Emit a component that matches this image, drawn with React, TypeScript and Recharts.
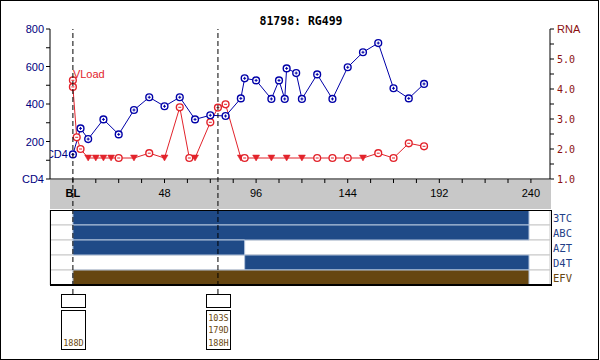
import React from 'react';
import { ComposedChart, BarChart, Bar, Line, XAxis, YAxis, ReferenceLine, Cell } from 'recharts';

// CD4 counts by week
const cd4Weeks = [0, 4, 8, 16, 24, 32, 40, 48, 56, 64, 72, 80, 88, 90, 96, 104, 108, 111, 112, 117, 120, 128, 136, 144, 152, 160, 168, 176, 184];
const cd4Values = [131, 270, 213, 318, 238, 368, 436, 388, 436, 318, 340, 336, 430, 537, 526, 427, 526, 427, 590, 565, 427, 558, 427, 596, 676, 725, 484, 430, 507];

// viral load (log10 RNA) by week, with below-limit flags
const rnaWeeks = [0, 0, 2, 4, 8, 12, 16, 20, 24, 32, 40, 48, 56, 61, 64, 72, 76, 80, 88, 90, 96, 104, 112, 120, 128, 136, 144, 152, 160, 168, 176, 184];
const rnaValues = [4.29, 4.07, 2.39, 2.0, 1.7, 1.7, 1.7, 1.7, 1.7, 1.7, 1.86, 1.7, 3.39, 1.7, 1.7, 2.89, 3.38, 3.49, 1.7, 1.7, 1.7, 1.7, 1.7, 1.7, 1.7, 1.7, 1.7, 1.7, 1.86, 1.7, 2.19, 2.09];
const rnaBelow = [false, false, false, false, true, true, true, true, false, true, false, true, false, false, true, false, false, false, true, false, true, true, true, true, false, false, false, true, false, false, false, false];

// drug regimens
const drugs = ['3TC', 'ABC', 'AZT', 'D4T', 'EFV'];
const drugStart = [0, 0, 0, 90, 0];
const drugEnd = [239, 239, 90, 239, 239];
const drugColors = ['#1f4a87', '#1f4a87', '#1f4a87', '#1f4a87', '#664611'];
const drugLabelColors = ['#1f3f88', '#1f3f88', '#1f3f88', '#1f3f88', '#664611'];

// genotype events
const eventWeeks = [0, 76];
const eventMutations = [['188D'], ['103S', '179D', '188H']];

// axis ticks
const xTicks = [0, 12, 24, 36, 48, 60, 72, 84, 96, 108, 120, 132, 144, 156, 168, 180, 192, 204, 216, 228, 240];
const xLabels: Record<number, string> = { 0: 'BL', 48: '48', 96: '96', 144: '144', 192: '192', 240: '240' };
const cd4Ticks = [0, 100, 200, 300, 400, 500, 600, 700, 800];
const cd4Labels: Record<number, string> = { 0: 'CD4', 200: '200', 400: '400', 600: '600', 800: '800' };
const rnaTicks = [1, 1.5, 2, 2.5, 3, 3.5, 4, 4.5, 5, 5.5, 6];
const rnaLabels: Record<number, string> = { 1: '1.0', 2: '2.0', 3: '3.0', 4: '4.0', 5: '5.0', 6: 'RNA' };

const cd4Data = cd4Weeks.map((w, i) => ({ week: w, value: cd4Values[i] }));
const rnaData = rnaWeeks.map((w, i) => ({ week: w, value: rnaValues[i], below: rnaBelow[i] }));
const drugData = drugs.map((d, i) => ({ name: d, range: [drugStart[i], drugEnd[i]] }));
const eventData = eventWeeks.map((w) => ({ week: w, y: 0.5 }));

const BLUE = '#0000a8';
const RED = '#e2232b';
const MONO = '"DejaVu Sans Mono", monospace';
const SANS = '"Liberation Sans", Arial, sans-serif';

const XTick = (props: any) => {
  const { x, y, payload } = props;
  const label = xLabels[payload.value] || '';
  return (
    <text x={x} y={y} dy={12} textAnchor="middle" fontSize={11} fontFamily={SANS}
      fontWeight={payload.value === 0 ? 'bold' : 'normal'} fill="#000">{label}</text>
  );
};

const Cd4Tick = (props: any) => {
  const { x, y, payload } = props;
  return <text x={x} y={y} dy={4} textAnchor="end" fontSize={11} fontFamily={SANS} fill="#000080">{cd4Labels[payload.value] || ''}</text>;
};

const RnaTick = (props: any) => {
  const { x, y, payload } = props;
  const label = rnaLabels[payload.value] || '';
  const isName = payload.value === 6;
  return <text x={x} y={y} dy={4} textAnchor="start" fontSize={isName ? 11 : 10} fontFamily={isName ? SANS : MONO} fill="#8b1010">{label}</text>;
};

const DrugTick = (props: any) => {
  const { x, y, payload } = props;
  const i = drugs.indexOf(payload.value);
  return <text x={x} y={y} dy={4} textAnchor="start" fontSize={10.5} fontFamily={MONO} fill={drugLabelColors[i]}>{payload.value}</text>;
};

const Cd4Dot = (props: any) => {
  const { cx, cy, index } = props;
  return (
    <g key={`cd4-${index}`}>
      <circle cx={cx} cy={cy} r={3.4} fill="#fff" stroke={BLUE} strokeWidth={1.4} />
      <path d={`M${cx - 1.5},${cy} L${cx + 1.5},${cy} M${cx},${cy - 1.5} L${cx},${cy + 1.5}`} stroke={BLUE} strokeWidth={1} />
      {index === 0 && (
        <text x={cx - 5} y={cy + 4} textAnchor="end" fontSize={11} fontFamily={SANS} fill="#000080">CD4</text>
      )}
    </g>
  );
};

const RnaDot = (props: any) => {
  const { cx, cy, index, payload } = props;
  if (payload.below) {
    return (
      <path key={`rna-${index}`} d={`M${cx - 3.5},${cy - 3} L${cx + 3.5},${cy - 3} L${cx},${cy + 3} Z`} fill={RED} stroke={RED} strokeWidth={0.5} />
    );
  }
  return (
    <g key={`rna-${index}`}>
      <circle cx={cx} cy={cy} r={3.4} fill="#fff" stroke={RED} strokeWidth={1.4} />
      <path d={`M${cx - 1.5},${cy} L${cx + 1.5},${cy}`} stroke={RED} strokeWidth={1} />
      {index === 0 && (
        <text x={cx} y={cy - 2} textAnchor="start" fontSize={11} fontFamily={SANS} fill={RED}>VLoad</text>
      )}
    </g>
  );
};

const MutationBox = (props: any) => {
  const { viewBox, mutations } = props;
  if (!viewBox) return null;
  const cx = Math.round(viewBox.x) + 0.5;
  const top = Math.round(viewBox.y + viewBox.height) + 0.5;
  return (
    <g>
      <rect x={cx - 12} y={top} width={24} height={13} fill="#fff" stroke="#000" />
      <rect x={cx - 12} y={top + 16} width={24} height={39} fill="#fff" stroke="#000" />
      {mutations.map((m: string, i: number) => (
        <text key={m} x={cx} y={top + 51 - (mutations.length - 1 - i) * 12.3} textAnchor="middle"
          fontSize={8.5} fontFamily={MONO} fill="#6b4a10">{m}</text>
      ))}
    </g>
  );
};

export default function App() {
  return (
    <div style={{ position: 'absolute', left: 0, top: 0, width: 599, height: 360, boxSizing: 'border-box', border: '1px solid #000', background: '#fff', fontFamily: SANS }}>
      <div style={{ position: 'absolute', left: 0, top: 0, width: 600, textAlign: 'center', fontFamily: MONO, fontWeight: 'bold', fontSize: 11.5, lineHeight: '14px', paddingTop: 13 }}>
        81798: RG499
      </div>
      <div style={{ position: 'absolute', left: 49, top: 179, width: 501, height: 29, background: '#c8c8c8' }} />

      <div style={{ position: 'absolute', left: -1, top: -1 }}>
        <ComposedChart width={600} height={210} margin={{ top: 29, right: 0, left: 0, bottom: 0 }}>
          <XAxis xAxisId="top" orientation="top" type="number" dataKey="week" domain={[-12, 250]} allowDataOverflow
            height={0} tick={false} tickLine={false} axisLine={{ stroke: '#000' }} />
          <XAxis type="number" dataKey="week" domain={[-12, 250]} allowDataOverflow ticks={xTicks} interval={0}
            height={31} tickSize={4} tickMargin={2} tick={<XTick />} axisLine={{ stroke: '#000' }} tickLine={{ stroke: '#000' }} />
          <YAxis yAxisId="cd4" type="number" domain={[0, 800]} allowDataOverflow ticks={cd4Ticks} interval={0}
            width={50} tickSize={4} tickMargin={2} tick={<Cd4Tick />} axisLine={{ stroke: '#000' }} tickLine={{ stroke: '#000' }} />
          <YAxis yAxisId="rna" orientation="right" type="number" domain={[1, 6]} allowDataOverflow ticks={rnaTicks} interval={0}
            width={50} tickSize={4} tickMargin={3} tick={<RnaTick />} axisLine={{ stroke: '#000' }} tickLine={{ stroke: '#000' }} />
          <Line data={rnaData} yAxisId="rna" dataKey="value" stroke={RED} strokeWidth={1} dot={RnaDot} isAnimationActive={false} />
          <Line data={cd4Data} yAxisId="cd4" dataKey="value" stroke={BLUE} strokeWidth={1} dot={Cd4Dot} isAnimationActive={false} />
        </ComposedChart>
      </div>

      <div style={{ position: 'absolute', left: -1, top: 209 }}>
        <BarChart layout="vertical" width={600} height={75} data={drugData} barCategoryGap={0}
          margin={{ top: 0, right: 0, left: 50, bottom: 0 }}>
          <XAxis type="number" domain={[-12, 250]} allowDataOverflow hide />
          <YAxis type="category" dataKey="name" orientation="right" width={50} axisLine={false} tickLine={false}
            interval={0} tickSize={1} tickMargin={2} tick={<DrugTick />} />
          <Bar dataKey="range" isAnimationActive={false} stroke="#b4c4dc" strokeWidth={1}
            background={{ fill: '#fff', stroke: '#c8c8c8', strokeWidth: 1 }}>
            {drugData.map((d, i) => <Cell key={d.name} fill={drugColors[i]} />)}
          </Bar>
        </BarChart>
      </div>
      <div style={{ position: 'absolute', left: 49, top: 209, width: 502, height: 76, boxSizing: 'border-box', border: '1px solid #000', borderBottom: '2px solid #000' }} />

      <div style={{ position: 'absolute', left: -1, top: -1 }}>
        <ComposedChart width={600} height={360} data={eventData} margin={{ top: 29, right: 50, left: 50, bottom: 66 }}>
          <XAxis type="number" dataKey="week" domain={[-12, 250]} allowDataOverflow hide />
          <YAxis type="number" domain={[0, 1]} allowDataOverflow hide />
          <Line dataKey="y" stroke="none" dot={false} activeDot={false} isAnimationActive={false} />
          {eventWeeks.map((w, i) => (
            <ReferenceLine key={w} x={w} stroke="#000" strokeDasharray="5 3" ifOverflow="visible"
              label={<MutationBox mutations={eventMutations[i]} />} />
          ))}
        </ComposedChart>
      </div>
    </div>
  );
}
